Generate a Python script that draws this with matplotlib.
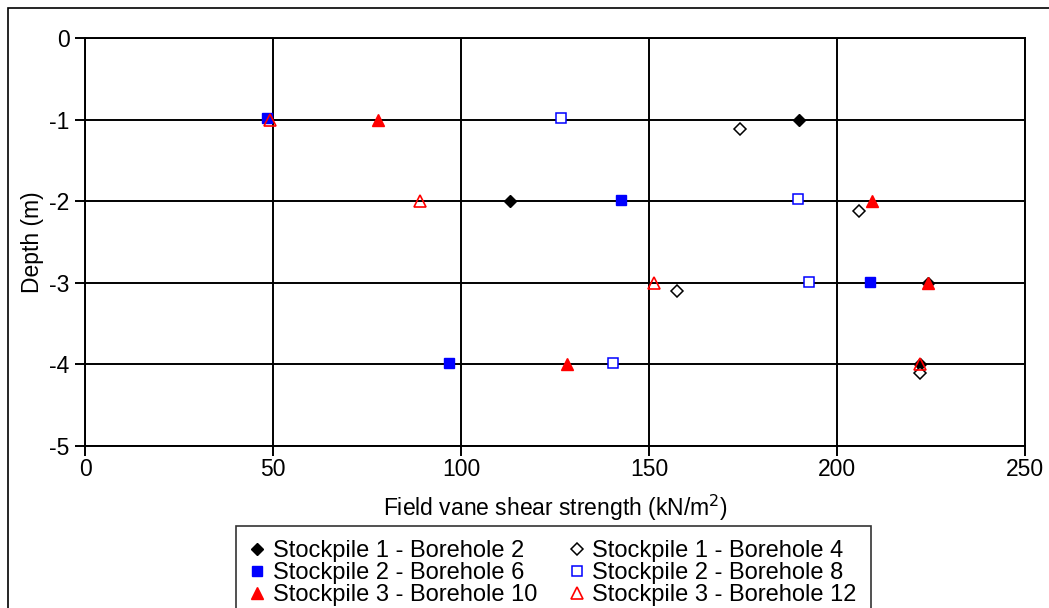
import matplotlib.pyplot as plt
import matplotlib.patches as patches

plt.rcParams['font.family'] = ['Liberation Sans', 'DejaVu Sans']
plt.rcParams['axes.unicode_minus'] = False

# field vane shear strength (kN/m2) vs depth (m)
bh2_x = [190.0, 113.1, 224.3, 222.1]
bh2_y = [-1.0, -2.0, -3.0, -4.0]
bh4_x = [174.2, 205.9, 157.4, 222.1]
bh4_y = [-1.11, -2.12, -3.1, -4.1]
bh6_x = [48.5, 142.5, 208.8, 96.8]
bh6_y = [-0.98, -1.98, -2.99, -3.98]
bh8_x = [126.5, 189.6, 192.5, 140.5]
bh8_y = [-0.98, -1.97, -2.99, -3.98]
bh10_x = [78.0, 209.4, 224.3, 128.1]
bh10_y = [-1.0, -2.0, -3.0, -4.0]
bh12_x = [49.2, 89.1, 151.2, 222.1]
bh12_y = [-1.01, -2.0, -3.0, -4.0]

labels = ['Stockpile 1 - Borehole 2', 'Stockpile 1 - Borehole 4',
          'Stockpile 2 - Borehole 6', 'Stockpile 2 - Borehole 8',
          'Stockpile 3 - Borehole 10', 'Stockpile 3 - Borehole 12']

fig = plt.figure(figsize=(10.49, 6.08), dpi=100)
ax = fig.add_axes([85/1049, 1-446/608, 940/1049, 408/608])

h = []
h += ax.plot(bh2_x, bh2_y, 'D', ms=6.5, color='black', ls='none')
h += ax.plot(bh4_x, bh4_y, 'D', ms=5.7, mfc='white', mec='black', mew=1.1, ls='none')
h += ax.plot(bh6_x, bh6_y, 's', ms=7.5, color='blue', ls='none')
h += ax.plot(bh8_x, bh8_y, 's', ms=7, mfc='white', mec='blue', mew=1.1, ls='none')
h += ax.plot(bh10_x, bh10_y, '^', ms=8.5, color='red', ls='none')
h += ax.plot(bh12_x, bh12_y, '^', ms=8.5, mfc='none', mec='red', mew=1.2, ls='none')

ax.set_xlim(0, 250)
ax.set_ylim(-5, 0)
ax.set_xticks([0, 50, 100, 150, 200, 250])
ax.set_yticks([0, -1, -2, -3, -4, -5])
ax.grid(True, color='black', lw=1.4)
ax.set_axisbelow(True)
for s in ax.spines.values():
    s.set_linewidth(1.4)
ax.tick_params(direction='out', length=7, width=1.4, labelsize=16.5, pad=4)
ax.tick_params(axis='x', pad=2)
ax.set_xlabel('Field vane shear strength (kN/m$^2$)', fontsize=16.5, labelpad=8)
ax.set_ylabel('Depth (m)', fontsize=16.5)
ax.yaxis.set_label_coords(-0.044, 0.5)

# legend is filled row by row in the original
order = [0, 2, 4, 1, 3, 5]
leg = fig.legend([h[i] for i in order], [labels[i] for i in order], ncol=2, loc='upper left',
                 bbox_to_anchor=(236/1049, 1-532/608, 635/1049, 0.01), mode='expand',
                 fontsize=17, frameon=True, fancybox=False, edgecolor='black',
                 handlelength=0.6, handletextpad=0.35, labelspacing=0.0,
                 borderpad=0.6, columnspacing=1.0, borderaxespad=0)
leg.get_frame().set_linewidth(1.2)

fig.patches.append(patches.Rectangle((8/1049, -0.1), 1.2, 1.1 - 8/608,
                                     transform=fig.transFigure, fill=False,
                                     edgecolor='black', lw=1.2))

fig.savefig('out.png', dpi=100)
